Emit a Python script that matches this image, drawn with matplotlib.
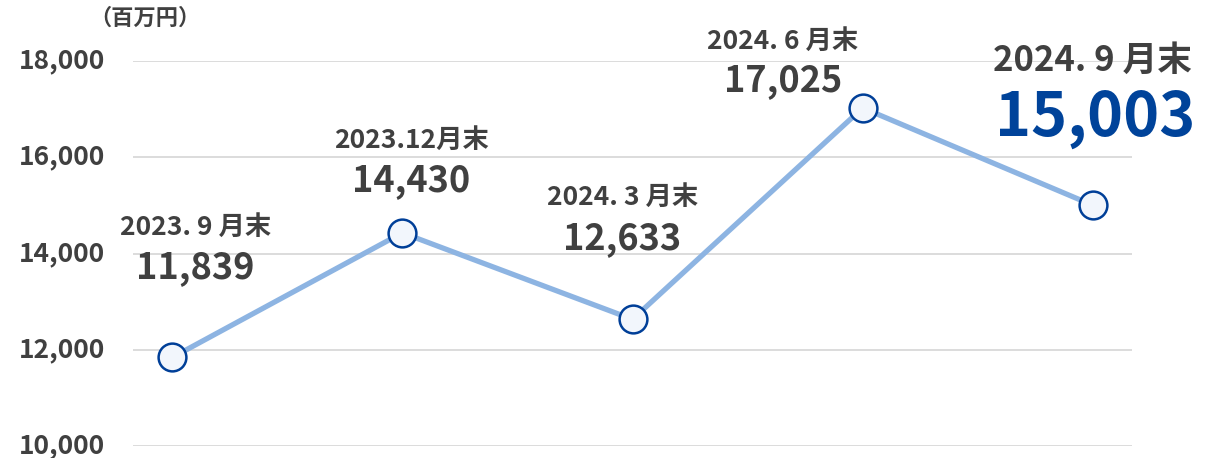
import matplotlib
matplotlib.use("Agg")
import matplotlib.pyplot as plt
import matplotlib.transforms as mtrans

# data
periods = ["2023. 9 月末", "2023.12月末", "2024. 3 月末", "2024. 6 月末", "2024. 9 月末"]
values = [11839, 14430, 12633, 17025, 15003]
yticks = [10000, 12000, 14000, 16000, 18000]

plt.rcParams['font.family'] = ['Noto Sans CJK JP', 'DejaVu Sans']

gray = "#404040"
fig = plt.figure(figsize=(12.25, 4.58), dpi=100)
ax = fig.add_axes([133/1225, 12/458, 999/1225, 385/458])

x = list(range(len(values)))
ax.plot(x, values, color="#8DB4E2", lw=3.8, zorder=2, clip_on=False)
ax.plot(x, values, ls="none", marker="o", ms=20, mfc="#F2F6FC", mec="#003F98",
        mew=1.8, zorder=3, clip_on=False)

ax.set_xlim(-0.17, 4.17)
ax.set_ylim(10000, 18000)
ax.set_yticks(yticks)
ax.set_yticklabels([f"{v:,}" for v in yticks])
ax.set_xticks([])
ax.grid(axis="y", color="#D9D9D9", lw=1.3)
ax.set_axisbelow(True)
for s in ax.spines.values():
    s.set_visible(False)
ax.tick_params(axis="y", length=0, pad=20, labelsize=19, labelcolor=gray)
up = mtrans.ScaledTranslation(0, 3/100, fig.dpi_scale_trans)
for t in ax.get_yticklabels():
    t.set_fontweight("bold")
    t.set_transform(t.get_transform() + up)

# label offsets in pixels (date, value)
date_off = [(23, 130), (9, 92), (-10, 122), (-80, 67), (0, 145)]
val_off = [(23, 90), (9, 52), (-10, 81), (-80, 27), (2, 87)]

for i, (p, v) in enumerate(zip(periods, values)):
    last = i == len(values) - 1
    ax.annotate(p, (i, v), xytext=date_off[i], textcoords="offset pixels",
                ha="center", va="center", fontsize=25 if last else 19,
                fontweight="bold", color=gray)
    ax.annotate(f"{v:,}", (i, v), xytext=val_off[i], textcoords="offset pixels",
                ha="center", va="center", fontsize=44 if last else 26,
                fontweight="bold", color="#00439A" if last else gray)

fig.text(145/1225, 1 - 18/458, "（百万円）", ha="center", va="center",
         fontsize=16, fontweight="bold", color=gray)

fig.savefig("out.png", dpi=100)
